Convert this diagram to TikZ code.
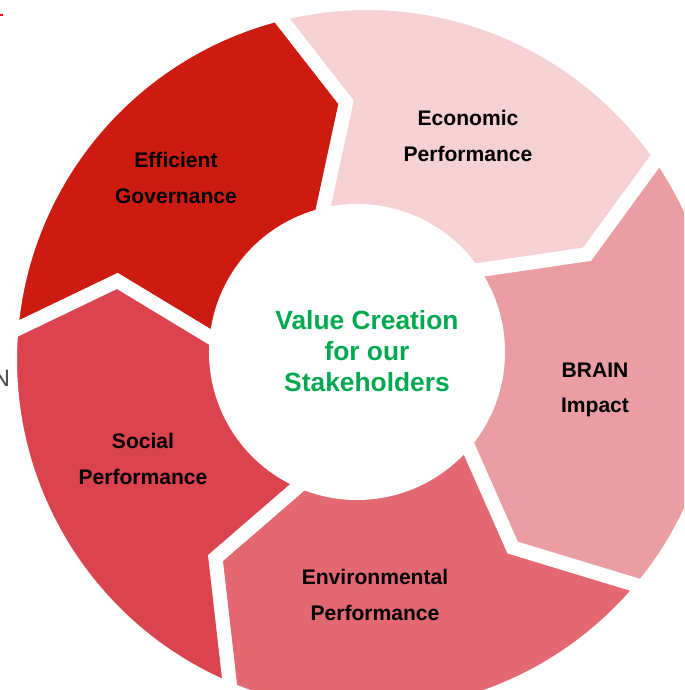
\documentclass[tikz,border=0pt]{standalone}
\usepackage{fontspec}
\setmainfont{Liberation Sans}
\usepackage{xcolor}
\usepackage{tikz}
\usetikzlibrary{calc}

\definecolor{govred}{RGB}{206,27,18}
\definecolor{ecopink}{RGB}{245,209,212}
\definecolor{brainpink}{RGB}{234,158,163}
\definecolor{envred}{RGB}{227,104,113}
\definecolor{socred}{RGB}{219,67,78}
\definecolor{hubgreen}{RGB}{0,168,80}

% one chevron piece of the ring: start angle, end angle, colour
\newcommand{\ringpiece}[3]{%
	\filldraw[piece,fill=#3] ($(outer)+(#1:357)$) arc[start angle=#1,end angle=#2,radius=357]
		-- ($(inner)+(#2-12:250)$) -- ($(inner)+(#2:141)$) arc[start angle=#2,end angle=#1,radius=141]
		-- ($(inner)+(#1-12:250)$) -- cycle;
}

\begin{document}
\begin{tikzpicture}[x=0.02cm,y=0.02cm,
	piece/.style={draw=white,line width=8pt,line join=miter},
	label/.style={align=center,font=\fontsize{12}{20.4}\selectfont\bfseries},
	hub/.style={align=center,text=hubgreen,font=\fontsize{15}{17.6}\selectfont\bfseries}]
	\useasboundingbox (0,0) rectangle (684,690);
	\clip (0,0) rectangle (684,690);
	\fill[white] (0,0) rectangle (684,690);
	\coordinate (outer) at (367,330);
	\coordinate (inner) at (357,338);
	\ringpiece{175.5}{104.5}{govred}
	\ringpiece{104.5}{35}{ecopink}
	\ringpiece{35}{-39.5}{brainpink}
	\ringpiece{-39.5}{-112.5}{envred}
	\ringpiece{247.5}{175.5}{socred}
	\node[label] (gov) at (176,512) {Efficient\\Governance};
	\node[label] (eco) at (468,554) {Economic\\Performance};
	\node[label] (brain) at (595,300) {BRAIN\\Impact};
	\node[label] (env) at (375,95) {Environmental\\Performance};
	\node[label] (soc) at (143,231) {Social\\Performance};
	\node[hub] (value) at (367,339) {Value Creation\\for our\\Stakeholders};
	\node[text=black!70,inner sep=0pt,font=\fontsize{13.5}{16}\selectfont] (edge) at (1.5,312) {N};
	\fill[red] (0,674) rectangle (3,676);
\end{tikzpicture}
\end{document}
